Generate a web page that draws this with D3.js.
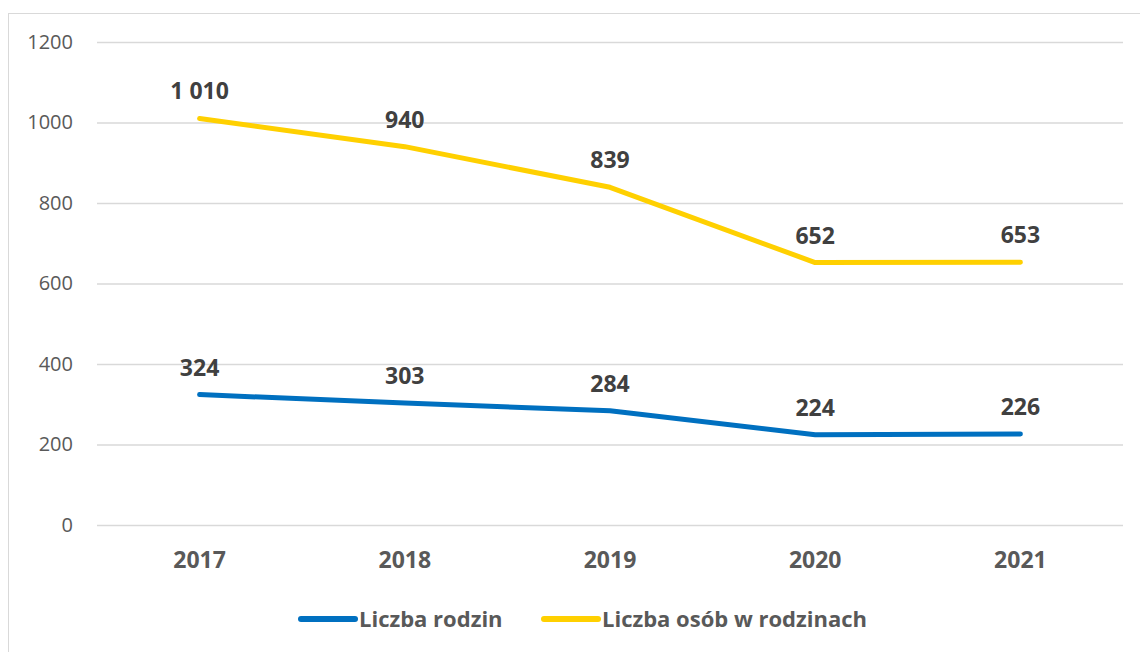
<!DOCTYPE html>
<html>
<head>
<meta charset="utf-8">
<script src="https://cdn.jsdelivr.net/npm/d3@7"></script>
<style>
  body { margin: 0; background: #fff; }
  text { font-family: "Open Sans", "Liberation Sans", sans-serif; }
</style>
</head>
<body>
<div id="chart"></div>
<script>
// data
var years = ["2017", "2018", "2019", "2020", "2021"];
var rodziny = [324, 303, 284, 224, 226];
var osoby = [1010, 940, 839, 652, 653];
var yTicks = [0, 200, 400, 600, 800, 1000, 1200];
var seriesNames = ["Liczba rodzin", "Liczba osób w rodzinach"];
var colors = ["#0070C0", "#FFD000"];

var W = 1140, H = 652;
var margin = {top: 42, right: 17, bottom: 127, left: 97};
var width = W - margin.left - margin.right,
    height = H - margin.top - margin.bottom;

var svg = d3.select("#chart")
  .append("svg")
    .attr("width", W)
    .attr("height", H);

// outer frame
svg.append("rect")
  .attr("x", 8.5).attr("y", 13.5)
  .attr("width", W).attr("height", H)
  .attr("fill", "none")
  .attr("stroke", "#d9d9d9");

var g = svg.append("g")
  .attr("transform", "translate(" + margin.left + "," + margin.top + ")");

var x = d3.scaleBand()
  .domain(years)
  .range([0, width]);

var y = d3.scaleLinear()
  .domain([0, 1200])
  .range([height, 0]);

// gridlines + y labels
var yAxis = g.append("g")
  .call(d3.axisLeft(y).tickValues(yTicks).tickSize(-width).tickPadding(24).tickFormat(d3.format("d")));
yAxis.select(".domain").remove();
yAxis.selectAll("line").attr("stroke", "#d9d9d9").attr("stroke-width", 1.3);
yAxis.selectAll("text")
  .attr("fill", "#595959")
  .style("font-size", "20px");

// x labels
var xAxis = g.append("g")
  .attr("transform", "translate(0," + height + ")")
  .call(d3.axisBottom(x).tickSize(0).tickPadding(27));
xAxis.select(".domain").remove();
xAxis.selectAll("text")
  .attr("fill", "#595959")
  .style("font-size", "23px")
  .style("font-weight", "bold");

var line = d3.line()
  .x(function(d, i) { return x(years[i]) + x.bandwidth() / 2; })
  .y(function(d) { return y(d); });

var fmt = function(v) { return d3.format(",")(v).replace(/,/g, " "); };

[rodziny, osoby].forEach(function(vals, k) {
  g.append("path")
    .datum(vals)
    .attr("d", line)
    .attr("fill", "none")
    .attr("stroke", colors[k])
    .attr("stroke-width", 5)
    .attr("stroke-linecap", "round")
    .attr("stroke-linejoin", "round");

  g.selectAll(".lbl" + k)
    .data(vals)
    .enter()
    .append("text")
    .attr("x", function(d, i) { return x(years[i]) + x.bandwidth() / 2; })
    .attr("y", function(d) { return y(d) - 19; })
    .attr("text-anchor", "middle")
    .attr("fill", "#404040")
    .style("font-size", "23px")
    .style("font-weight", "bold")
    .text(fmt);
});

// legend
var legX = [299, 542];
seriesNames.forEach(function(name, k) {
  var lg = svg.append("g").attr("transform", "translate(" + legX[k] + ",619)");
  lg.append("line")
    .attr("x1", 2).attr("x2", 56)
    .attr("stroke", colors[k])
    .attr("stroke-width", 6)
    .attr("stroke-linecap", "round");
  lg.append("text")
    .attr("x", 60).attr("y", 8)
    .attr("fill", "#595959")
    .style("font-size", "22px")
    .style("font-weight", "bold")
    .text(name);
});
</script>
</body>
</html>
